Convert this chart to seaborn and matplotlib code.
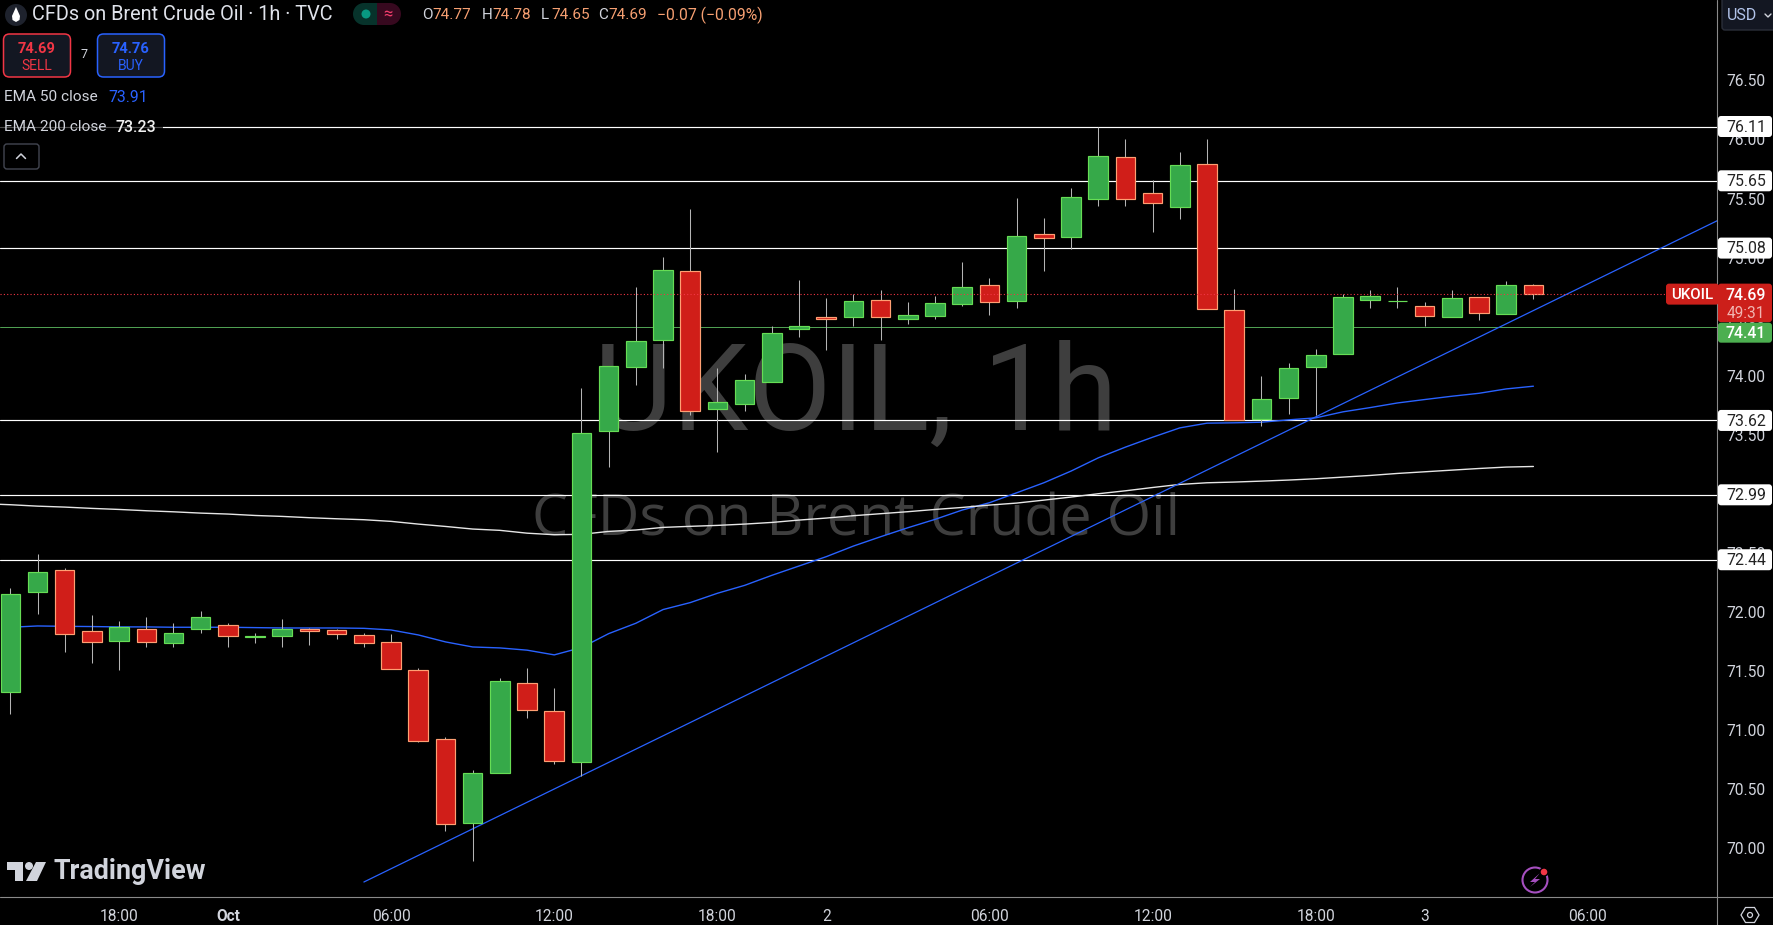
import matplotlib
matplotlib.use('Agg')
import matplotlib.pyplot as plt
import seaborn as sns
from matplotlib.patches import Circle, FancyBboxPatch, Polygon, Rectangle

# candles, one per hour
opens = [71.316, 72.170, 72.356, 71.840, 71.753, 71.857, 71.736, 71.857, 71.891, 71.789,
         71.795, 71.851, 71.849, 71.806, 71.747, 71.510, 70.918, 70.213, 70.636, 71.400,
         71.155, 70.729, 73.532, 74.071, 74.299, 74.886, 73.716, 73.758, 73.944, 74.395,
         74.497, 74.497, 74.641, 74.480, 74.502, 74.604, 74.767, 74.632, 75.199, 75.170,
         75.500, 75.850, 75.545, 75.432, 75.790, 74.555, 73.630, 73.808, 74.070, 74.180,
         74.637, 74.630, 74.589, 74.493, 74.665, 74.518, 74.770]
highs = [72.198, 72.486, 72.373, 71.970, 71.919, 71.953, 71.902, 72.004, 71.902, 71.818,
         71.936, 71.863, 71.851, 71.818, 71.809, 71.527, 70.935, 70.658, 71.434, 71.521,
         71.352, 73.896, 74.082, 74.753, 75.007, 75.413, 74.060, 74.017, 74.423, 74.813,
         74.660, 74.689, 74.728, 74.626, 74.672, 74.965, 74.829, 75.506, 75.337, 75.590,
         76.109, 76.005, 75.658, 75.895, 76.005, 74.736, 74.000, 74.110, 74.228, 74.693,
         74.727, 74.753, 74.626, 74.727, 74.665, 74.800, 74.780]
lows = [71.132, 71.978, 71.660, 71.564, 71.507, 71.699, 71.699, 71.818, 71.699, 71.733,
        71.699, 71.716, 71.767, 71.699, 71.516, 70.898, 70.142, 69.889, 70.636, 71.098,
        70.709, 70.610, 73.225, 73.919, 74.060, 73.670, 73.349, 73.696, 73.944, 74.330,
        74.220, 74.423, 74.305, 74.440, 74.483, 74.593, 74.516, 74.576, 74.889, 75.074,
        75.438, 75.438, 75.218, 75.328, 74.561, 73.624, 73.571, 73.678, 73.667, 74.180,
        74.575, 74.575, 74.423, 74.493, 74.473, 74.518, 74.650]
closes = [72.153, 72.339, 71.812, 71.744, 71.874, 71.744, 71.823, 71.959, 71.795, 71.790,
          71.857, 71.837, 71.812, 71.736, 71.516, 70.907, 70.204, 70.630, 71.409, 71.169,
          70.737, 73.515, 74.082, 74.294, 74.894, 73.699, 73.778, 73.964, 74.361, 74.421,
          74.480, 74.632, 74.494, 74.514, 74.615, 74.751, 74.621, 75.182, 75.162, 75.511,
          75.858, 75.500, 75.458, 75.782, 74.561, 73.624, 73.802, 74.064, 74.174, 74.665,
          74.674, 74.632, 74.502, 74.657, 74.527, 74.767, 74.690]

ema50 = [71.868, 71.879, 71.876, 71.874, 71.871, 71.871, 71.868, 71.868, 71.868, 71.865,
         71.862, 71.862, 71.862, 71.859, 71.845, 71.803, 71.744, 71.701, 71.693, 71.674,
         71.634, 71.696, 71.814, 71.902, 72.018, 72.077, 72.156, 72.223, 72.308, 72.387,
         72.466, 72.556, 72.635, 72.711, 72.782, 72.861, 72.923, 73.007, 73.092, 73.191,
         73.303, 73.394, 73.478, 73.557, 73.597, 73.600, 73.605, 73.625, 73.642, 73.693,
         73.729, 73.768, 73.797, 73.825, 73.850, 73.887, 73.910]
# starts one bar earlier, off the left edge
ema200 = [72.915, 72.906, 72.894, 72.886, 72.875, 72.866, 72.855, 72.846, 72.835, 72.827, 72.815,
          72.807, 72.796, 72.787, 72.779, 72.765, 72.742, 72.722, 72.700, 72.689, 72.665,
          72.652, 72.655, 72.680, 72.692, 72.714, 72.723, 72.731, 72.742, 72.756, 72.776,
          72.793, 72.813, 72.830, 72.847, 72.866, 72.883, 72.903, 72.920, 72.945, 72.971,
          72.999, 73.024, 73.052, 73.078, 73.092, 73.098, 73.106, 73.115, 73.126, 73.140,
          73.154, 73.171, 73.185, 73.199, 73.213, 73.225, 73.230]

trend_x = [13, 62.75]
trend_y = [69.71, 75.311]

levels = [76.11, 75.65, 75.08, 73.62, 72.99, 72.44]
last_price = 74.69
bid_line = 74.41

y_ticks = [70.0, 70.5, 71.0, 71.5, 72.0, 72.5, 73.0, 73.5, 74.0, 74.5, 75.0, 75.5, 76.0, 76.5]
x_ticks = [4, 8, 14, 20, 26, 30, 36, 42, 48, 52, 58]
x_labels = ['18:00', 'Oct', '06:00', '12:00', '18:00', '2', '06:00', '12:00', '18:00', '3', '06:00']

bars = list(range(len(opens)))

sns.set_theme(style='dark', rc={'axes.facecolor': 'black', 'figure.facecolor': 'black',
                                'patch.force_edgecolor': False})
plt.rcParams['font.family'] = ['Roboto', 'DejaVu Sans']

GREEN = '#36a949'
GREEN_EDGE = '#66dd55'
RED = '#d01e19'
RED_EDGE = '#ff9f73'
BLUE = '#2962ff'
LABEL = '#d1d4dc'
GREY = '#8a8a8a'

fig = plt.figure(figsize=(17.74, 9.25), dpi=100)
ax = fig.add_axes([0, 28 / 925, 1717 / 1774, 897 / 925])

# watermark sits under everything
ax.text(0.4985, 467 / 897, 'UKOIL, 1h', transform=ax.transAxes, ha='center', va='baseline',
        fontsize=87, color='#3e3e3e', family='Roboto', zorder=0)
ax.text(0.4985, 362 / 897, 'CFDs on Brent Crude Oil', transform=ax.transAxes, ha='center', va='baseline',
        fontsize=41.3, color='#3e3e3e', family='Open Sans', zorder=0)

for lv in levels:
    ax.axhline(lv, color='white', lw=0.85, zorder=1)
ax.axhline(bid_line, color='#4f9f52', lw=0.72, zorder=1)

sns.lineplot(x=bars, y=ema50, ax=ax, color=BLUE, lw=1.0, zorder=2)
sns.lineplot(x=[-1] + bars, y=ema200, ax=ax, color='#e6e6e6', lw=1.0, zorder=2)
sns.lineplot(x=trend_x, y=trend_y, ax=ax, color=BLUE, lw=0.9, zorder=2)

# candles
face = [GREEN if c >= o else RED for o, c in zip(opens, closes)]
edge = [GREEN_EDGE if c >= o else RED_EDGE for o, c in zip(opens, closes)]
ax.vlines(bars, lows, highs, color='#b4b4b4', lw=0.75, zorder=3)
ax.bar(bars, [abs(c - o) for o, c in zip(opens, closes)], bottom=[min(o, c) for o, c in zip(opens, closes)],
       width=0.72, color=face, edgecolor=edge, linewidth=0.85, zorder=4)

ax.axhline(last_price, color='#f23645', lw=0.8, ls=(0, (1, 2)), zorder=5)

ax.set_xlim(-0.379, 62.75)
ax.set_ylim(69.583, 77.1816)
ax.yaxis.tick_right()
ax.set_yticks(y_ticks)
ax.set_yticklabels([f'{t:.2f}' for t in y_ticks])
ax.set_xticks(x_ticks)
ax.set_xticklabels(x_labels)
ax.tick_params(axis='y', length=0, pad=7, labelsize=11.2, labelcolor=LABEL)
ax.tick_params(axis='x', length=0, pad=8.5, labelsize=11.2, labelcolor=LABEL)
ax.get_xticklabels()[1].set_fontweight('bold')
ax.set_xlabel('')
ax.set_ylabel('')
ax.grid(False)
for s in ax.spines.values():
    s.set_visible(False)


def py(price):
    return 925 - ax.transData.transform((0, price))[1]


# overlay in pixels for the TradingView chrome
ui = fig.add_axes([0, 0, 1, 1], zorder=5)
ui.set_xlim(0, 1774)
ui.set_ylim(925, 0)
ui.axis('off')
ui.patch.set_alpha(0)

ui.plot([1717, 1717], [0, 925], color=GREY, lw=0.8)
ui.plot([0, 1774], [897, 897], color=GREY, lw=0.8)


def box(x0, y0, x1, y1, fc, ec='none', r=3, lw=1.0, z=3):
    ui.add_patch(FancyBboxPatch((x0 + r, y0 + r), x1 - x0 - 2 * r, y1 - y0 - 2 * r,
                                boxstyle=f'round,pad={r},rounding_size={r}', fc=fc, ec=ec, lw=lw, zorder=z))


def label(x, y, s, color=LABEL, size=11, ha='left', weight='normal', z=6):
    return ui.text(x, y, s, color=color, fontsize=size, ha=ha, va='center', fontweight=weight, zorder=z)


# price tags
for lv in levels:
    y = py(lv)
    box(1718, y - 10.5, 1772, y + 10.5, 'white')
    label(1746, y + 0.8, f'{lv:.2f}', color='#222222', ha='center', size=11.4)

y = py(last_price)
box(1666, y - 10.5, 1719, y + 10.5, '#cc1f1a')
label(1692, y + 1, 'UKOIL', color='white', ha='center', size=10.8, weight='medium')
box(1718, y - 10.5, 1772, y + 28, '#cc1f1a')
label(1746, y + 1, f'{last_price:.2f}', color='white', ha='center', size=11.4, weight='medium')
label(1746, y + 19.5, '49:31', color='#f0b4b0', ha='center', size=11.2)
y = py(bid_line) + 5.5
box(1718, y - 10, 1772, y + 10, '#4caf50')
label(1746, y + 1, f'{bid_line:.2f}', color='white', ha='center', size=11.4, weight='medium')

# currency button
box(1722, -6, 1780, 30, '#131722', '#2a2e39')
label(1727, 15.5, 'USD', color='#b2c4ea', size=11.5)
ui.plot([1765, 1768, 1771], [14, 17, 14], color=LABEL, lw=1.0, zorder=6)

# header
ui.add_patch(Circle((16, 15), 11, fc='#1e222d', zorder=3))
ui.add_patch(Polygon([(16, 7), (20, 16), (19.5, 20), (16, 22), (12.5, 20), (12, 16)], fc='white', zorder=4))
label(32, 14.5, 'CFDs on Brent Crude Oil · 1h · TVC', color='#e0e3eb', size=14.3)
ui.add_patch(Rectangle((364, 3), 13, 22, fc='#07332b', zorder=3))
ui.add_patch(Circle((364, 14), 11, fc='#07332b', zorder=3))
ui.add_patch(Rectangle((377, 3), 13, 22, fc='#37091f', zorder=3))
ui.add_patch(Circle((390, 14), 11, fc='#37091f', zorder=3))
ui.add_patch(Circle((366, 14), 4.5, fc='#089981', zorder=4))
label(388, 14, '≈', color='#f23d6d', size=12, ha='center')

ORANGE = '#f7a072'
ohlc = [(422, 'O', '74.77'), (482, 'H', '74.78'), (541, 'L', '74.65'), (598, 'C', '74.69')]
for x, k, v in ohlc:
    label(x, 15, k, color=LABEL, size=11)
    label(x + 10.5, 15, v, color=ORANGE, size=11)
label(657, 15, '−0.07 (−0.09%)', color=ORANGE, size=11.3)

# sell / buy buttons
box(3.5, 34, 70.5, 77, '#131722', '#f23645', r=6, lw=1.1)
label(37, 49, '74.69', color='#f23645', ha='center', size=10.5, weight='bold')
label(37, 66, 'SELL', color='#f23645', ha='center', size=10)
label(84, 54, '7', size=9, ha='center')
box(97.5, 34, 164.5, 77, '#131722', '#2962ff', r=6, lw=1.1)
label(131, 49, '74.76', color='#2962ff', ha='center', size=10.5, weight='bold')
label(131, 66, 'BUY', color='#2962ff', ha='center', size=10)

# indicator legend
ui.add_patch(Rectangle((0, 116), 163, 22, fc='black', alpha=0.7, zorder=2))
label(4, 97, 'EMA 50 close', size=11.1)
label(108, 97, '73.91', color=BLUE, size=11.3)
label(4, 127, 'EMA 200 close', size=11.1)
label(116, 127, '73.23', color='#f0f0f0', size=11.5, weight='medium')
box(4, 144, 39, 169, 'black', '#434651', r=3)
ui.plot([16.5, 21, 25.5], [158.5, 154, 158.5], color=LABEL, lw=1.1, zorder=6)

# TradingView logo
LOGO = '#d1d4dc'
ui.add_patch(Polygon([(7, 862), (23, 862), (23, 881), (15, 881), (15, 870), (7, 870)], fc=LOGO, zorder=4))
ui.add_patch(Circle((29, 866), 4, fc=LOGO, zorder=4))
ui.add_patch(Polygon([(36, 862), (46, 862), (37, 881), (26, 881)], fc=LOGO, zorder=4))
ui.text(54, 879, 'TradingView', color=LOGO, fontsize=19.4, fontweight='bold', ha='left', va='baseline', zorder=6)

# bolt button
ui.add_patch(Circle((1535, 880), 12.5, fc='black', ec='#a64fc0', lw=1.5, zorder=4))
ui.add_patch(Polygon([(1540, 873), (1530, 882), (1535, 882), (1530, 887), (1540, 879), (1535, 879)],
                     fc='#a64fc0', zorder=5))
ui.add_patch(Circle((1544, 872), 4, fc='#f23645', ec='black', lw=1.0, zorder=6))

# settings hexagon
ui.add_patch(Polygon([(1741, 915), (1745.5, 907.5), (1754.5, 907.5), (1759, 915), (1754.5, 922.5), (1745.5, 922.5)],
                     fc='none', ec=LABEL, lw=0.9, zorder=5))
ui.add_patch(Circle((1750, 915), 2.5, fc='none', ec=LABEL, lw=0.9, zorder=5))

fig.savefig('out.png', dpi=100, facecolor='black')
